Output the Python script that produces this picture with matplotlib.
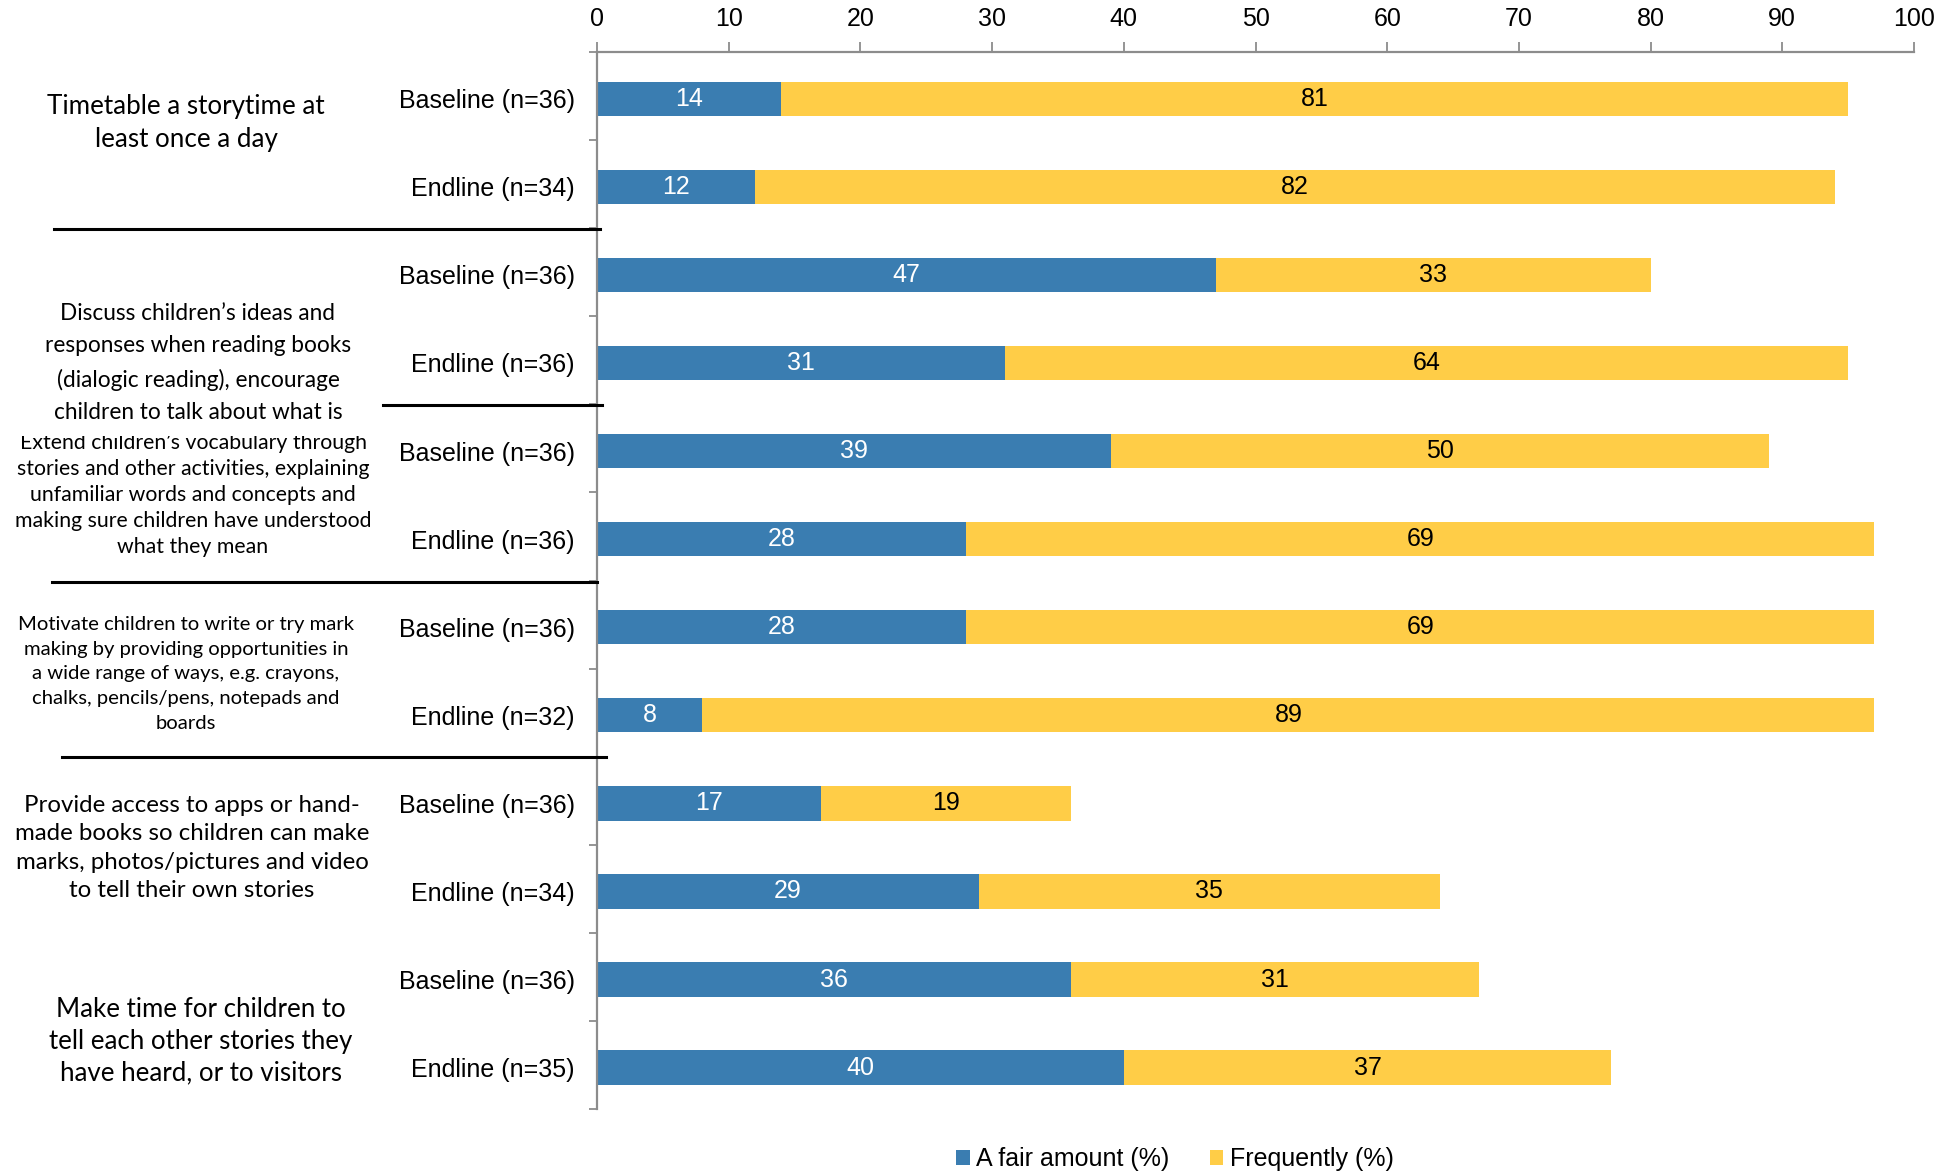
import matplotlib
matplotlib.use("Agg")
import matplotlib.pyplot as plt
from matplotlib.patches import Rectangle
from matplotlib.ticker import FixedLocator

plt.rcParams['font.family'] = ['Liberation Sans', 'DejaVu Sans']

# rows top to bottom
row_labels = ["Baseline (n=36)", "Endline (n=34)",
              "Baseline (n=36)", "Endline (n=36)",
              "Baseline (n=36)", "Endline (n=36)",
              "Baseline (n=36)", "Endline (n=32)",
              "Baseline (n=36)", "Endline (n=34)",
              "Baseline (n=36)", "Endline (n=35)"]
fair_amount = [14, 12, 47, 31, 39, 28, 28, 8, 17, 29, 36, 40]
frequently = [81, 82, 33, 64, 50, 69, 69, 89, 19, 35, 31, 37]

group_labels = [
    "Timetable a storytime at\nleast once a day",
    "Discuss children\u2019s ideas and\nresponses when reading books\n(dialogic reading), encourage\nchildren to talk about what is",
    "Extend children\u2019s vocabulary through\nstories and other activities, explaining\nunfamiliar words and concepts and\nmaking sure children have understood\nwhat they mean",
    "Motivate children to write or try mark\nmaking by providing opportunities in\na wide range of ways, e.g. crayons,\nchalks, pencils/pens, notepads and\nboards",
    "Provide access to apps or hand-\nmade books so children can make\nmarks, photos/pictures and video\nto tell their own stories",
    "Make time for children to\ntell each other stories they\nhave heard, or to visitors",
]

BLUE = "#3a7db1"
YELLOW = "#ffcd47"
GREY = "#8c8c8c"

W, H = 1939, 1172
fig = plt.figure(figsize=(W / 100, H / 100), dpi=100)
ax = fig.add_axes([597 / W, 1 - 1109 / H, (1914 - 597) / W, (1109 - 52) / H])


def fx(px):
    return px / W


def fy(py):
    return 1 - py / H


y = [i + 0.03 for i in range(len(row_labels))]
b1 = ax.barh(y, fair_amount, height=0.39, color=BLUE, label="A fair amount (%)")
b2 = ax.barh(y, frequently, left=fair_amount, height=0.39, color=YELLOW,
             label="Frequently (%)")
ax.bar_label(b1, label_type='center', color='white', fontsize=18)
ax.bar_label(b2, label_type='center', color='black', fontsize=18)

ax.set_xlim(0, 100)
ax.set_ylim(len(row_labels) - 0.5, -0.5)
ax.xaxis.tick_top()
ax.set_xticks(range(0, 101, 10))
ax.tick_params(axis='x', direction='out', length=7, width=1.3, color=GREY,
               labelsize=18, pad=8)

ax.set_yticks(y)
ax.set_yticklabels(row_labels, fontsize=18)
ax.tick_params(axis='y', which='major', length=0, pad=16)
ax.yaxis.set_minor_locator(FixedLocator([i - 0.5 for i in range(len(row_labels) + 1)]))
ax.tick_params(axis='y', which='minor', direction='out', length=6, width=1.3, color=GREY)

for side in ['right', 'bottom']:
    ax.spines[side].set_visible(False)
for side in ['left', 'top']:
    ax.spines[side].set_color(GREY)
    ax.spines[side].set_linewidth(1.6)

# group captions on the left: centre x, centre y, size, line spacing
cap_font = ['Lato', 'DejaVu Sans']
captions = [
    (186, 123, 18.7, 1.36),
    (198, 363, 16.3, 1.66),
    (193, 495, 15.3, 1.38),
    (186, 674, 14.6, 1.55),
    (192, 848, 17.3, 1.45),
    (201, 1041, 18.6, 1.33),
]
zs = [3, 5, 2, 3, 3, 3]
for text, (cx, cy, size, ls), z in zip(group_labels, captions, zs):
    fig.text(fx(cx), fy(cy), text, ha='center', va='center', fontsize=size,
             linespacing=ls, family=cap_font, zorder=z)

# the discussion caption box hides the top of the next caption
fig.patches.append(Rectangle((fx(4), fy(436)), fx(372), fy(423) - fy(436),
                             transform=fig.transFigure, facecolor='white',
                             edgecolor='none', zorder=4))

# separator lines between question groups
for py, x0, x1 in [(229, 54, 600), (405, 383, 602), (582, 52, 597), (757, 62, 606)]:
    fig.add_artist(plt.Line2D([fx(x0), fx(x1)], [fy(py), fy(py)], color='black',
                              lw=2.2, transform=fig.transFigure, zorder=6))

fig.legend(handles=[b1, b2], loc='center', bbox_to_anchor=(fx(1175), fy(1159)),
           ncol=2, frameon=False, fontsize=18, handlelength=0.55,
           handleheight=0.55, handletextpad=0.25, columnspacing=1.6)

fig.savefig("out.png", dpi=100)
